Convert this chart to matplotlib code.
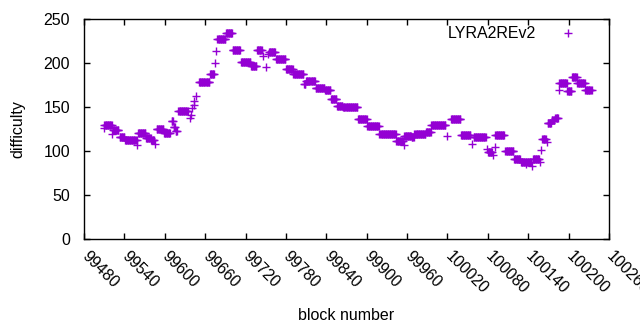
import numpy as np
import matplotlib
matplotlib.use("Agg")
import matplotlib.pyplot as plt

# difficulty per block, stored as runs of consecutive blocks with the same value
# (first block, last block, difficulty)
run_first = [99509, 99510, 99522, 99523, 99533, 99541, 99559, 99560, 99572, 99580,
             99585, 99588, 99599, 99610, 99613, 99616, 99620, 99637, 99639, 99641,
             99643, 99644, 99646, 99651, 99667, 99674, 99676, 99678, 99691, 99701,
             99713, 99728, 99737, 99746, 99750, 99753, 99755, 99765, 99780, 99791,
             99807, 99810, 99813, 99824, 99838, 99847, 99856, 99865, 99887, 99901,
             99919, 99944, 99955, 99956, 99967, 99971, 99988, 99996, 100019, 100025,
             100040, 100057, 100059, 100078, 100080, 100087, 100090, 100091, 100106, 100119,
             100129, 100136, 100146, 100147, 100157, 100159, 100161, 100168, 100169, 100175,
             100180, 100185, 100186, 100198, 100205, 100213, 100225]
run_last = [99509, 99521, 99522, 99531, 99540, 99558, 99559, 99571, 99579, 99584,
            99585, 99598, 99608, 99612, 99615, 99618, 99634, 99637, 99639, 99641,
            99643, 99644, 99646, 99666, 99673, 99674, 99676, 99690, 99700, 99712,
            99727, 99736, 99744, 99746, 99750, 99753, 99764, 99779, 99790, 99806,
            99809, 99812, 99823, 99837, 99846, 99855, 99864, 99886, 99900, 99918,
            99943, 99954, 99955, 99966, 99970, 99987, 99995, 100017, 100019, 100039,
            100054, 100057, 100077, 100078, 100086, 100087, 100090, 100104, 100118, 100128,
            100144, 100136, 100146, 100156, 100157, 100159, 100166, 100168, 100174, 100179,
            100184, 100185, 100197, 100204, 100212, 100224, 100234]
run_diff = [126, 130, 119, 124, 116, 112, 107, 120, 115, 112,
            108, 125, 121, 134, 127, 123, 145, 137, 141, 149,
            152, 157, 162, 178, 187, 200, 214, 227, 234, 215,
            201, 197, 215, 208, 195, 210, 212, 204, 193, 188,
            176, 179, 180, 172, 169, 159, 151, 150, 136, 128,
            119, 111, 107, 117, 116, 119, 122, 130, 117, 136,
            118, 108, 116, 102, 99, 96, 105, 118, 100, 91,
            88, 85, 83, 91, 88, 101, 114, 110, 132, 135,
            138, 169, 177, 168, 184, 177, 169]

x_ticks = list(range(99480, 100261, 60))
y_ticks = [0, 50, 100, 150, 200, 250]

blocks = np.concatenate([np.arange(a, b + 1) for a, b in zip(run_first, run_last)])
difficulty = np.concatenate([np.full(b - a + 1, d) for a, b, d in zip(run_first, run_last, run_diff)])

plt.rcParams["font.family"] = ["Liberation Sans", "DejaVu Sans"]
fs = 11.5

fig = plt.figure(figsize=(6.4, 3.3), dpi=100)
ax = fig.add_axes([84 / 640, 91 / 330, 525 / 640, 220 / 330])

ax.plot(blocks, difficulty, linestyle="none", marker="+", markersize=5.6,
        markeredgewidth=1.0, color="#9400D3", label="LYRA2REv2")

ax.set_xlim(99480, 100260)
ax.set_ylim(0, 250)
ax.set_xticks(x_ticks)
ax.set_yticks(y_ticks)
ax.set_xticklabels([str(t) for t in x_ticks], rotation=-45, ha="left", va="center",
                   rotation_mode="anchor", fontsize=fs)
ax.tick_params(axis="both", direction="in", length=4.5, width=1.0,
               top=True, right=True, labelsize=fs)
ax.tick_params(axis="x", pad=11)
ax.tick_params(axis="y", pad=10)
for s in ax.spines.values():
    s.set_linewidth(1.0)

ax.set_xlabel("block number", fontsize=fs, labelpad=8)
ax.set_ylabel("difficulty", fontsize=fs, labelpad=13)

ax.legend(loc="upper right", bbox_to_anchor=(0.953, 0.966), frameon=False,
          markerfirst=False, handlelength=2.0, handletextpad=1.0,
          borderpad=0, borderaxespad=0, fontsize=fs)

fig.savefig("out.png", dpi=100)
